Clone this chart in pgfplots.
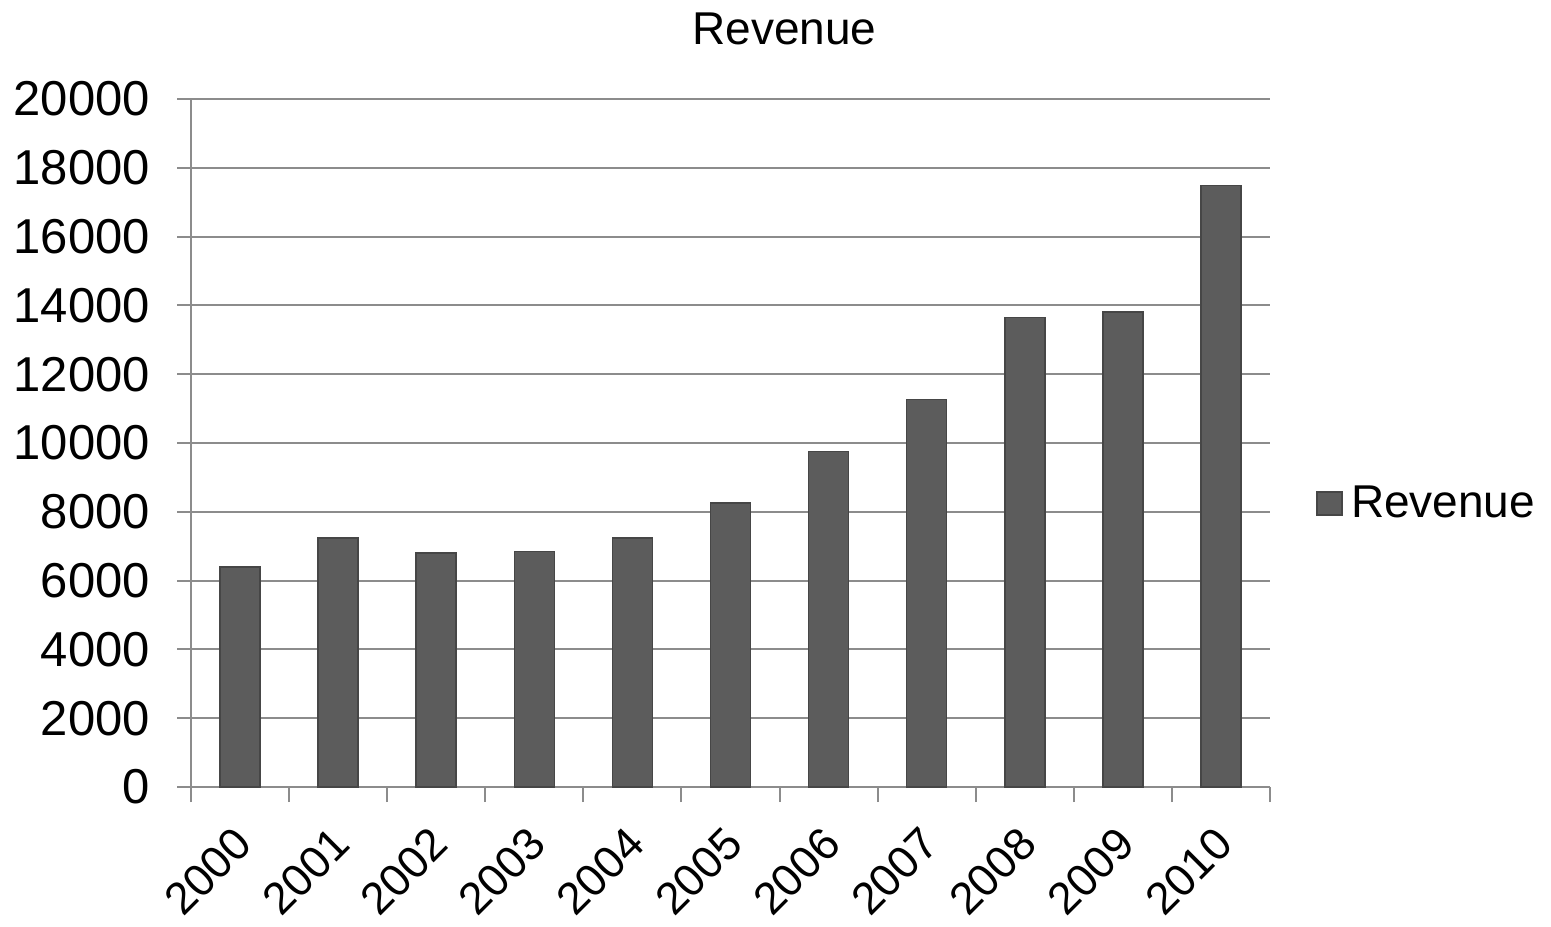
\documentclass[border=0pt]{standalone}
\usepackage{pgfplots}
\pgfplotsset{compat=1.18}
\usepackage{fontspec}
\setmainfont{Liberation Sans}
\usetikzlibrary{calc}

\definecolor{gridgray}{RGB}{140,140,140}
\definecolor{barfill}{RGB}{92,92,92}
\definecolor{baredge}{RGB}{70,70,70}

\begin{document}
\begin{tikzpicture}
\begin{axis}[
    name=ax,
    scale only axis,
    width=539.5pt, height=344pt,
    xmin=-0.5, xmax=10.5,
    ymin=0, ymax=20000,
    axis x line=bottom, axis y line=left,
    axis line style={-, gridgray, line width=1pt},
    ytick={0,2000,...,20000},
    xtick={0,...,10},
    xticklabels={2000,2001,2002,2003,2004,2005,2006,2007,2008,2009,2010},
    minor xtick={-0.5,0.5,...,10.5},
    major x tick style={draw=none},
    tick align=outside,
    major tick length=7pt, minor tick length=7.5pt,
    tick style={gridgray, line width=1pt},
    ymajorgrids,
    grid style={gridgray, line width=1pt},
    scaled y ticks=false,
    /pgf/number format/1000 sep={},
    /pgf/number format/assume math mode=true,
    yticklabel style={font=\fontsize{24.5}{28}\selectfont, xshift=-10pt},
    xticklabel style={rotate=45, anchor=north east, inner sep=0pt,
        font=\fontsize{22.5}{26}\selectfont, xshift=-11pt, yshift=-5.4pt},
    title={Revenue},
    title style={font=\fontsize{23}{27}\selectfont,
        at={(0.5,1)}, anchor=base, yshift=21.4pt, xshift=27pt},
    legend style={draw=none, fill=none, at={(1,0.412)}, anchor=west,
        xshift=20pt, font=\fontsize{23}{27}\selectfont},
    legend image code/.code={
        \fill[barfill, draw=baredge] (0pt,-5.75pt) rectangle (12.5pt,5.75pt);},
]
\addplot[ybar, bar width=20pt, fill=barfill, draw=baredge, line width=0.8pt]
    coordinates {
    (0,6400) (1,7240) (2,6800) (3,6850) (4,7240) (5,8250)
    (6,9750) (7,11270) (8,13650) (9,13800) (10,17480)
};
\addlegendentry{\hspace{2pt}Revenue}
\end{axis}
\pgfresetboundingbox
\path[use as bounding box] ($(ax.south west)+(-95.5pt,-69.5pt)$)
    rectangle ($(ax.north east)+(140.5pt,49.5pt)$);
\end{tikzpicture}
\end{document}
